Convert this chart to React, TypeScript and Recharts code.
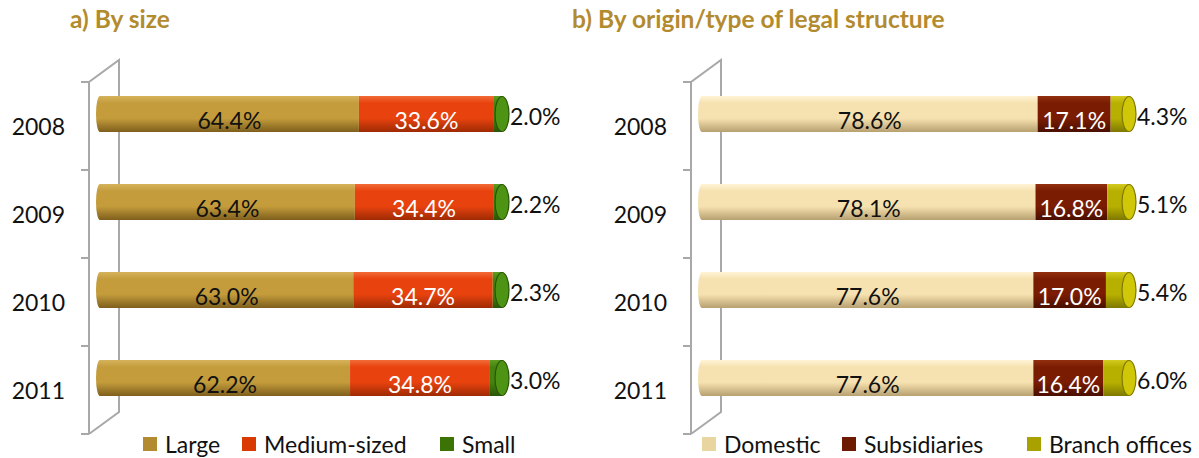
import type { FC } from 'react'
import { Bar, BarChart, LabelList, Legend, XAxis, YAxis } from 'recharts'

const years = ['2008', '2009', '2010', '2011']

const large = [64.4, 63.4, 63.0, 62.2]
const medium = [33.6, 34.4, 34.7, 34.8]
const small = [2.0, 2.2, 2.3, 3.0]

const domestic = [78.6, 78.1, 77.6, 77.6]
const subsidiaries = [17.1, 16.8, 17.0, 16.4]
const branches = [4.3, 5.1, 5.4, 6.0]

const FONT = 'Lato, "Open Sans", sans-serif'
const HEIGHT = 458
const PLOT_TOP = 82
const BAND = 88
const LIFT = 12 // bars sit a bit behind the front wall
const BAR_H = 36
const CAP_RX = 7
const BACK_RX = 4
const LABEL_SIZE = 23

type Series = {
  key: string
  name: string
  values: number[]
  light: string
  base: string
  dark: string
  face?: string
  legend: string
  labelColor: string
}

const sizeSeries: Series[] = [
  { key: 'large', name: 'Large', values: large, light: '#D6B25A', base: '#C49C3C', dark: '#7E5F1C', legend: '#B28A30', labelColor: '#111' },
  { key: 'medium', name: 'Medium-sized', values: medium, light: '#F26A36', base: '#E8420E', dark: '#9E2A04', legend: '#D83A02', labelColor: '#fff' },
  { key: 'small', name: 'Small', values: small, light: '#5E9E22', base: '#44830E', dark: '#2A5506', face: '#4E9414', legend: '#3B7404', labelColor: '#111' },
]

const originSeries: Series[] = [
  { key: 'domestic', name: 'Domestic', values: domestic, light: '#FFF4D6', base: '#F6E2B0', dark: '#B8A070', legend: '#E9D5A0', labelColor: '#111' },
  { key: 'subs', name: 'Subsidiaries', values: subsidiaries, light: '#92300E', base: '#7A1C02', dark: '#4A0F00', legend: '#6E1A02', labelColor: '#fff' },
  { key: 'branch', name: 'Branch offices', values: branches, light: '#D2CA20', base: '#B8B000', dark: '#7E7800', face: '#CFC708', legend: '#A9A100', labelColor: '#111' },
]

const cylinder = (s: Series, first: boolean, last: boolean) => (p: any) => {
  const { x, y, width, height } = p
  const top = y - LIFT
  const ry = height / 2
  const body = `url(#g-${s.key})`
  return (
    <g>
      <rect x={x} y={top} width={width} height={height} fill={body} />
      {first && <path d={`M${x},${top} A${BACK_RX},${ry} 0 0 0 ${x},${top + height} Z`} fill={body} />}
      {last && (
        <ellipse cx={x + width} cy={top + ry} rx={CAP_RX} ry={ry - 0.5} fill={s.face} stroke={s.dark} strokeWidth={1.2} />
      )}
    </g>
  )
}

const inside = (color: string) => (p: any) => {
  const { x, y, width, height, value } = p
  return (
    <text x={x + width / 2} y={y + height / 2 - LIFT + 6} textAnchor="middle" dominantBaseline="central"
      fill={color} fontSize={LABEL_SIZE} fontFamily={FONT}>
      {Number(value).toFixed(1)}%
    </text>
  )
}

const outside = (p: any) => {
  const { x, y, width, height, value } = p
  return (
    <text x={x + width + CAP_RX + 1} y={y + height / 2 - LIFT + 2} textAnchor="start" dominantBaseline="central"
      fill="#111" fontSize={LABEL_SIZE} fontFamily={FONT}>
      {Number(value).toFixed(1)}%
    </text>
  )
}

type PanelProps = {
  left: number
  width: number
  plotLeft: number
  plotWidth: number
  series: Series[]
  legendLeft: number
  legendWidths: number[]
}

const Panel: FC<PanelProps> = ({ left, width, plotLeft, plotWidth, series, legendLeft, legendWidths }) => {
  const rows = years.map((year, i) => {
    const row: Record<string, string | number> = { year }
    series.forEach(s => { row[s.key] = s.values[i] })
    return row
  })
  const plotBottom = PLOT_TOP + BAND * years.length
  const front = plotLeft - 11
  const back = front + 30
  const depth = 22
  const boundaries = Array.from({ length: years.length + 1 }, (_, i) => PLOT_TOP + BAND * i)

  const YearTick = (p: any) => (
    <text x={plotLeft - 35} y={p.y} textAnchor="end" dominantBaseline="central" fontSize={23} fontFamily={FONT} fill="#111">
      {p.payload.value}
    </text>
  )

  const LegendRow = () => (
    <div style={{ display: 'flex', fontFamily: FONT, fontSize: 23, lineHeight: '20px', color: '#111' }}>
      {series.map((s, i) => (
        <div key={s.key} style={{ display: 'flex', alignItems: 'center', width: legendWidths[i], whiteSpace: 'nowrap' }}>
          <span style={{ width: 14, height: 14, background: s.legend, marginRight: 8, display: 'inline-block' }} />
          {s.name}
        </div>
      ))}
    </div>
  )

  return (
    <div style={{ position: 'absolute', left, top: 0, width, height: HEIGHT }}>
      <svg width={width} height={HEIGHT} style={{ position: 'absolute', left: 0, top: 0 }}>
        <g stroke="#A8A8A8" strokeWidth={2} fill="none">
          <polyline points={`${front},${plotBottom} ${front},${PLOT_TOP} ${back},${PLOT_TOP - depth} ${back},${plotBottom - depth} ${front},${plotBottom}`} />
          {boundaries.map(b => <line key={b} x1={front - 8} x2={front} y1={b} y2={b} />)}
        </g>
      </svg>
      <div style={{ position: 'absolute', left: 0, top: 0 }}>
        <BarChart layout="vertical" width={width} height={HEIGHT} data={rows} barSize={BAR_H}
          margin={{ top: PLOT_TOP, bottom: HEIGHT - PLOT_TOP - BAND * years.length, left: 0, right: width - plotLeft - plotWidth }}>
          <defs>
            {series.map(s => (
              <linearGradient key={s.key} id={`g-${s.key}`} x1="0" y1="0" x2="0" y2="1">
                <stop offset="0%" stopColor={s.light} />
                <stop offset="20%" stopColor={s.base} />
                <stop offset="62%" stopColor={s.base} />
                <stop offset="100%" stopColor={s.dark} />
              </linearGradient>
            ))}
          </defs>
          <XAxis type="number" domain={[0, 100]} hide />
          <YAxis type="category" dataKey="year" width={plotLeft} axisLine={false} tickLine={false} tick={<YearTick />} />
          <Legend verticalAlign="middle" align="center" layout="horizontal" content={<LegendRow />}
            wrapperStyle={{ top: 434, left: legendLeft, width: 'auto' }} />
          {series.map((s, i) => (
            <Bar key={s.key} dataKey={s.key} name={s.name} stackId="a" fill={s.legend} isAnimationActive={false}
              shape={cylinder(s, i === 0, i === series.length - 1)}>
              <LabelList dataKey={s.key} content={i === series.length - 1 ? outside : inside(s.labelColor)} />
            </Bar>
          ))}
        </BarChart>
      </div>
    </div>
  )
}

const titleStyle = {
  position: 'absolute' as const,
  top: 7,
  fontFamily: FONT,
  fontWeight: 700,
  fontSize: 24.5,
  lineHeight: 1,
  color: '#B38B2F',
  whiteSpace: 'nowrap' as const,
}

export default function App() {
  return (
    <div style={{ position: 'absolute', left: 0, top: 0, width: 1199, height: HEIGHT, background: '#fff', overflow: 'hidden' }}>
      <Panel left={0} width={600} plotLeft={100} plotWidth={402}
        series={sizeSeries} legendLeft={143} legendWidths={[99, 198, 110]} />
      <Panel left={600} width={599} plotLeft={102} plotWidth={427}
        series={originSeries} legendLeft={102} legendWidths={[140, 185, 170]} />
      <div style={{ ...titleStyle, left: 70 }}>a) By size</div>
      <div style={{ ...titleStyle, left: 572 }}>b) By origin/type of legal structure</div>
    </div>
  )
}
